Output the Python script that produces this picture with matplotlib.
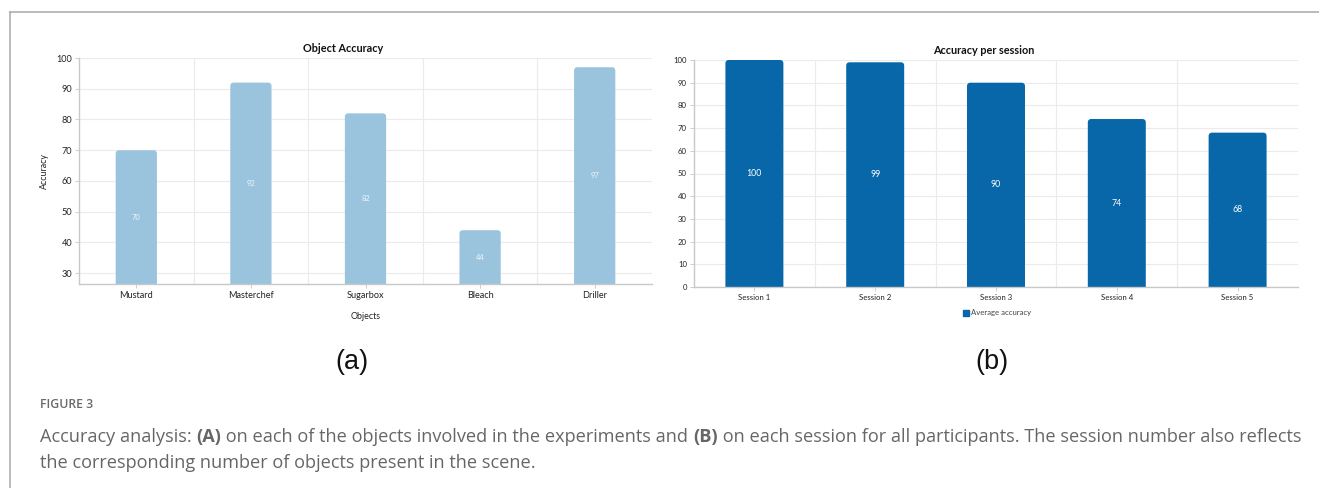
import matplotlib
matplotlib.use("Agg")
import matplotlib.pyplot as plt
from matplotlib.patches import PathPatch
from matplotlib.path import Path
from matplotlib.lines import Line2D

# Data
objects = ["Mustard", "Masterchef", "Sugarbox", "Bleach", "Driller"]
object_acc = [70, 92, 82, 44, 97]
sessions = ["Session 1", "Session 2", "Session 3", "Session 4", "Session 5"]
session_acc = [100, 99, 90, 74, 68]

W, H = 1319, 488
fig = plt.figure(figsize=(W / 100, H / 100), dpi=100)
plt.rcParams["font.family"] = ["Lato", "DejaVu Sans"]

LIGHT = "#9ac4de"
DARK = "#0767a9"
GRID = "#ebebeb"
SPINE = "#c8c8c8"


def px_axes(x0, y0, x1, y1):
    # axes placed by pixel box (top-left origin)
    return fig.add_axes([x0 / W, 1 - y1 / H, (x1 - x0) / W, (y1 - y0) / H])


def style_axes(ax, ylim, yticks, size):
    ax.set_ylim(*ylim)
    ax.set_xlim(-0.5, 4.5)
    ax.set_yticks(yticks)
    ax.set_xticks(range(5))
    ax.set_xticks([i + 0.5 for i in range(4)], minor=True)
    ax.grid(axis="y", color=GRID, lw=0.8)
    ax.grid(axis="x", which="minor", color=GRID, lw=0.8)
    ax.set_axisbelow(True)
    for s in ["top", "right"]:
        ax.spines[s].set_visible(False)
    for s in ["left", "bottom"]:
        ax.spines[s].set_color(SPINE)
        ax.spines[s].set_linewidth(1.0)
    ax.tick_params(axis="both", which="major", length=3, width=0.6, color=SPINE,
                   labelsize=size, labelcolor="#222222", pad=2)
    ax.tick_params(axis="x", which="minor", length=0)


def rounded_bars(ax, values, width, color, bottom, radius_px=3.5):
    # bars with rounded top corners, built as one path in data coords
    fig.canvas.draw()
    bb = ax.get_window_extent()
    x0, x1 = ax.get_xlim()
    y0, y1 = ax.get_ylim()
    rx = radius_px * (x1 - x0) / bb.width
    ry = radius_px * (y1 - y0) / bb.height
    for i, v in enumerate(values):
        l, r = i - width / 2, i + width / 2
        verts = [(l, bottom), (l, v - ry), (l, v), (l + rx, v),
                 (r - rx, v), (r, v), (r, v - ry), (r, bottom), (l, bottom)]
        codes = [Path.MOVETO, Path.LINETO, Path.CURVE3, Path.CURVE3,
                 Path.LINETO, Path.CURVE3, Path.CURVE3, Path.LINETO, Path.CLOSEPOLY]
        ax.add_patch(PathPatch(Path(verts, codes), fc=color, ec="none", zorder=2))


# (a) Object accuracy
ax1 = px_axes(79, 58, 652, 284)
style_axes(ax1, (26.5, 100), range(30, 101, 10), 6.6)
ax1.set_xticklabels(objects)
rounded_bars(ax1, object_acc, 0.36, LIGHT, 26.5)
for i, v in enumerate(object_acc):
    ax1.text(i, (v + 26.5) / 2, str(v), ha="center", va="center",
             fontsize=5.4, color="#eef5fa", zorder=3)
ax1.set_ylabel("Accuracy", fontsize=6.4, color="#222222", labelpad=5)
ax1.set_xlabel("Objects", fontsize=6.4, color="#222222", labelpad=9)
fig.text(343 / W, 1 - 49 / H, "Object Accuracy", ha="center", va="center",
         fontsize=7.8, fontweight="bold", color="#111111")

# (b) Accuracy per session
ax2 = px_axes(694, 60, 1298, 287)
style_axes(ax2, (0, 100), range(0, 101, 10), 5.6)
ax2.set_xticklabels(sessions)
rounded_bars(ax2, session_acc, 0.48, DARK, 0)
for i, v in enumerate(session_acc):
    ax2.text(i, v / 2, str(v), ha="center", va="center",
             fontsize=6.3, color="white", zorder=3)
fig.text(984 / W, 1 - 51 / H, "Accuracy per session", ha="center", va="center",
         fontsize=7.8, fontweight="bold", color="#111111")
handle = Line2D([], [], marker="s", ls="none", ms=5, color=DARK)
fig.legend([handle], ["Average accuracy"], loc="center",
           bbox_to_anchor=(997 / W, 1 - 313 / H), frameon=False,
           fontsize=5.6, labelcolor="#444444", handletextpad=0.2,
           handlelength=0.8, borderpad=0)

# panel letters
fig.text(352 / W, 1 - 362 / H, "(a)", ha="center", va="center",
         fontsize=19.5, family="Liberation Sans", color="#111111")
fig.text(992 / W, 1 - 362 / H, "(b)", ha="center", va="center",
         fontsize=19.5, family="Liberation Sans", color="#111111")

# page frame
fig.add_artist(Line2D([9.5 / W, 1], [1 - 11.5 / H] * 2, color="#a8a8a8", lw=1.1))
fig.add_artist(Line2D([9.5 / W] * 2, [0, 1 - 11.5 / H], color="#a8a8a8", lw=1.1))

# caption
CAP = "#666666"
fig.text(40 / W, 1 - 405 / H, "FIGURE 3", ha="left", va="center",
         fontsize=8.8, family="Open Sans", fontweight="semibold", color="#6a6a6a")


def rich_line(x_px, y_px, parts, size=13.1):
    fig.canvas.draw()
    renderer = fig.canvas.get_renderer()
    x = x_px
    for txt, bold in parts:
        t = fig.text(x / W, 1 - y_px / H, txt, ha="left", va="baseline",
                     fontsize=size, family="Open Sans",
                     fontweight="bold" if bold else "normal", color=CAP)
        x += t.get_window_extent(renderer).width


rich_line(40, 442, [("Accuracy analysis: ", False), ("(A)", True),
                    (" on each of the objects involved in the experiments and ", False),
                    ("(B)", True),
                    (" on each session for all participants. The session number also reflects", False)])
rich_line(40, 468, [("the corresponding number of objects present in the scene.", False)])

fig.savefig("out.png", dpi=100)
